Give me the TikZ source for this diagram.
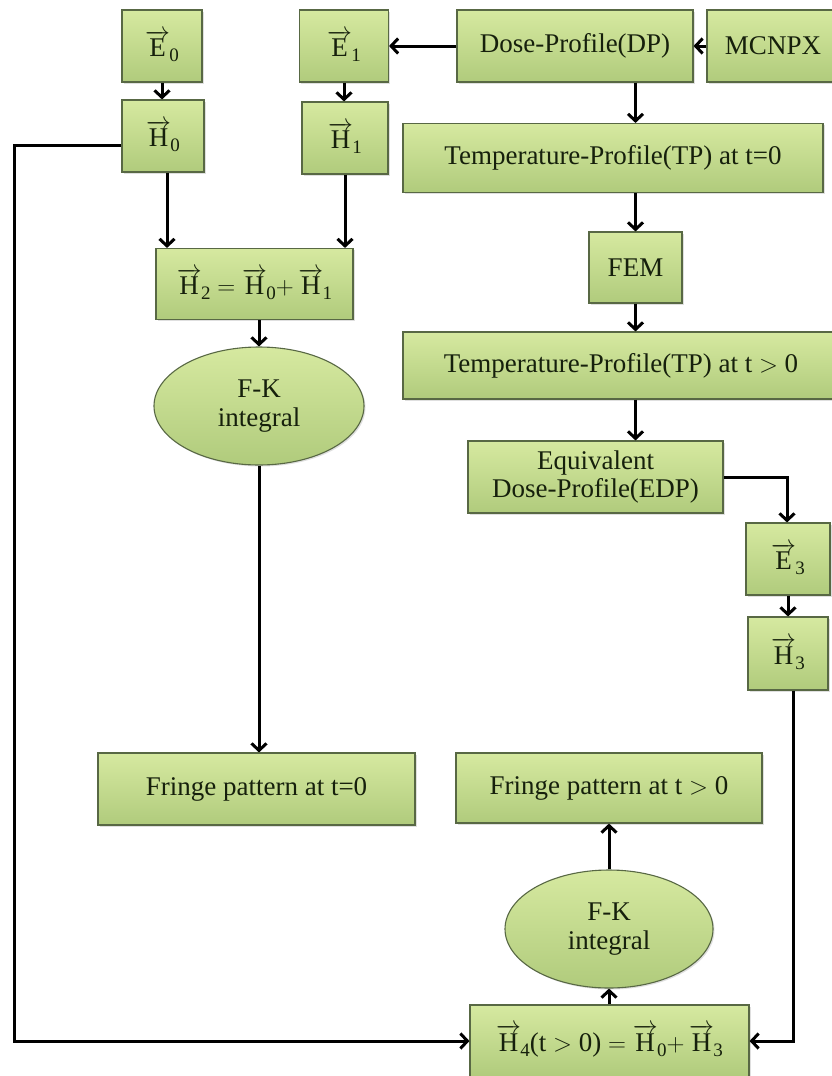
\documentclass[tikz,border=0pt]{standalone}
\usepackage{amsmath}
\usepackage{fontspec}
\setmainfont{Liberation Serif}
\usetikzlibrary{arrows.meta,shadows,shapes.geometric}
\definecolor{gtop}{RGB}{214,233,160}
\definecolor{gbot}{RGB}{176,203,124}
\definecolor{bdr}{RGB}{88,104,68}
\definecolor{txt}{RGB}{22,32,12}
\newcommand{\vvec}[1]{$\overrightarrow{\text{#1}}$}
\newcommand{\vsub}[2]{\vvec{#1}\kern-0.5pt\raisebox{-5pt}{\fontsize{19}{19}\selectfont #2}}
\tikzset{
  box/.style={draw=bdr, line width=1.1pt, top color=gtop, bottom color=gbot,
    rectangle, inner sep=2pt, text=txt, font=\fontsize{27}{31}\selectfont,
    drop shadow={shadow xshift=1.5pt, shadow yshift=-1.5pt, opacity=0.25}},
  oval/.style={box, ellipse, align=center},
  arr/.style={draw=black, line width=3pt, -{Straight Barb[length=7pt,width=15pt]}}
}
\begin{document}
\begin{tikzpicture}[x=1pt,y=-1pt]
\useasboundingbox (0,0) rectangle (832,1076);
\clip (0,0) rectangle (832,1076);
\fill[white] (0,0) rectangle (832,1076);

% left column
\node[box, minimum width=80pt, minimum height=72pt] (e0) at (162,46) {\vsub{E}{0}};
\node[box, minimum width=82pt, minimum height=72pt] (h0) at (163,136) {\vsub{H}{0}};
\node[box, minimum width=89pt, minimum height=72pt] (e1) at (344,46) {\vsub{E}{1}};
\node[box, minimum width=86pt, minimum height=72pt] (h1) at (345,138) {\vsub{H}{1}};
\node[box, minimum width=197pt, minimum height=71pt] (h2) at (254.5,284) {\vsub{H}{2} $=$ \vsub{H}{0}$+$\,\vsub{H}{1}};
\node[oval, minimum width=210pt, minimum height=118pt] (fk1) at (259,406) {F-K\\[-2pt]integral};
\node[box, minimum width=317pt, minimum height=72pt] (fr0) at (256.5,789) {Fringe pattern at t=0};

% right column
\node[box, minimum width=236pt, minimum height=72pt] (dp) at (575,46) {Dose-Profile(DP)};
\node[box, minimum width=132pt, minimum height=72pt] (mc) at (773,46) {MCNPX};
\node[box, minimum width=420pt, minimum height=69pt] (tp0) at (613,158) {Temperature-Profile(TP) at t=0};
\node[box, minimum width=93pt, minimum height=71pt] (fem) at (635.5,267.5) {FEM};
\node[box, minimum width=436pt, minimum height=67pt] (tp1) at (621,365.5) {Temperature-Profile(TP) at t $>$ 0};
\node[box, minimum width=255pt, minimum height=72pt, align=center] (edp) at (595.5,477) {Equivalent\\[-3pt]Dose-Profile(EDP)};
\node[box, minimum width=84pt, minimum height=72pt] (e3) at (788,559) {\vsub{E}{3}};
\node[box, minimum width=80pt, minimum height=73pt] (h3) at (788,653.5) {\vsub{H}{3}};
\node[box, minimum width=306pt, minimum height=70pt] (fr1) at (609,788) {Fringe pattern at t $>$ 0};
\node[oval, minimum width=208pt, minimum height=118pt] (fk2) at (609,929) {F-K\\[-2pt]integral};
\node[box, minimum width=279pt, minimum height=72pt] (h4) at (609.5,1041) {\vsub{H}{4}(t $>$ 0) $=$ \vsub{H}{0}$+$\,\vsub{H}{3}};

\coordinate (lc) at (14,145);
\coordinate (rc) at (793,0);

% connectors
\draw[arr] (e0.south) -- (e0.south |- h0.north);
\draw[arr] (e1.south) -- (e1.south |- h1.north);
\draw[arr] (dp.west) -- (e1.east);
\draw[arr] (mc.west) -- (dp.east);
\draw[arr] (fem |- dp.south) -- (fem |- tp0.north);
\draw[arr] (fem |- tp0.south) -- (fem.north);
\draw[arr] (fem.south) -- (fem |- tp1.north);
\draw[arr] (fem |- tp1.south) -- (fem |- edp.north);
\draw[arr] (edp.east) -| ([xshift=-1pt]e3.north);
\draw[arr] (e3.south) -- (e3.south |- h3.north);
\draw[arr] (rc |- h3.south) |- (h4.east);
\draw[arr] (h0.west |- lc) -- (lc) |- (h4.west);
\draw[arr] ([xshift=4pt]h0.south) -- ([xshift=4pt]h0.south |- h2.north);
\draw[arr] (h1.south) -- (h1.south |- h2.north);
\draw[arr] (fk1.north |- h2.south) -- (fk1.north);
\draw[arr] (fk1.south) -- (fk1.south |- fr0.north);
\draw[arr] (fk2.south |- h4.north) -- (fk2.south);
\draw[arr] (fk2.north) -- (fk2.north |- fr1.south);
\end{tikzpicture}
\end{document}
